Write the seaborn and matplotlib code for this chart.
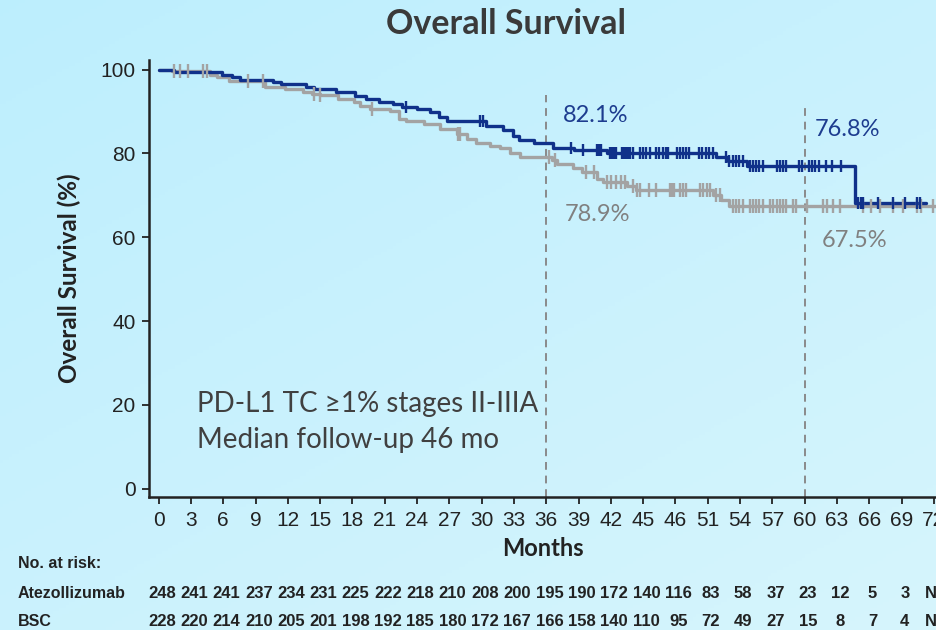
import numpy as np
import pandas as pd
import matplotlib
matplotlib.use("Agg")
import matplotlib.pyplot as plt
import matplotlib.transforms as mtransforms
from matplotlib import font_manager
import seaborn as sns

# ---------------- data ----------------
atezo_t = [0, 1.4, 5.85, 6.8, 7.55, 10.6, 11.4, 13.7, 14.4, 16.5, 18.2, 19.3, 20.5, 21.8, 22.6,
           24.0, 25.2, 26.0, 26.8, 30.45, 32.0, 32.9, 33.5, 34.9, 36.6, 38.6, 41.6, 51.8, 52.9,
           54.6, 64.7, 71.3]
atezo_s = [100, 99.4, 98.8, 98.2, 97.6, 97.0, 96.7, 95.9, 95.5, 94.6, 93.6, 93.0, 92.4, 91.8, 91.0,
           90.6, 89.8, 88.6, 87.8, 86.6, 85.6, 84.2, 83.3, 82.4, 81.2, 80.8, 80.2, 79.2, 78.2,
           76.9, 68.3, 68.3]
atezo_cens = [23.0, 29.8, 30.1, 38.3, 39.4, 40.7, 40.9, 41.1, 41.9, 42.1, 42.3, 42.5, 43.0, 43.2,
              43.4, 43.6, 43.8, 44.1, 44.7, 45.0, 45.3, 45.6, 46.2, 46.5, 46.8, 47.1, 47.3, 48.1,
              48.4, 48.7, 49.0, 49.3, 50.2, 50.5, 50.8, 51.1, 51.5, 52.7, 53.0, 53.3, 53.6, 53.9,
              54.3, 54.9, 55.2, 55.5, 55.8, 56.1, 57.4, 57.7, 58.0, 58.3, 59.5, 59.8, 60.4, 60.7,
              61.0, 61.3, 62.0, 62.5, 63.4, 65.0, 65.2, 65.4, 66.8, 68.2, 69.3, 70.4, 70.7]

bsc_t = [0, 1.2, 4.8, 5.4, 6.5, 9.9, 11.7, 13.4, 14.2, 15.0, 16.7, 18.1, 18.7, 19.6, 21.5, 22.3,
         23.0, 24.6, 26.1, 27.7, 28.6, 29.5, 30.8, 31.7, 32.6, 33.6, 36.5, 37.0, 38.5, 39.3, 40.7,
         41.3, 43.5, 44.3, 51.5, 52.2, 53.0, 72.2]
bsc_s = [100, 99.6, 98.8, 98.2, 97.4, 95.8, 95.3, 94.6, 94.2, 93.9, 93.1, 92.2, 91.4, 90.6, 90.1,
         88.2, 87.8, 87.0, 85.8, 84.6, 83.4, 82.6, 81.8, 81.2, 80.2, 79.2, 78.4, 77.6, 76.5, 75.5,
         74.0, 73.1, 72.2, 71.4, 70.2, 68.9, 67.5, 67.5]
bsc_cens = [1.4, 2.0, 2.75, 4.1, 4.5, 8.3, 9.7, 14.4, 15.0, 19.8, 27.8, 28.0, 36.3, 36.8, 39.7,
            40.4, 41.6, 42.0, 42.5, 42.9, 43.3, 44.1, 44.4, 44.7, 45.5, 46.2, 47.5, 47.7, 47.9,
            48.4, 48.7, 49.0, 50.3, 50.6, 50.9, 51.2, 51.8, 52.1, 53.3, 53.6, 53.9, 54.3, 54.9,
            55.2, 55.5, 55.8, 56.1, 56.8, 57.1, 57.4, 57.7, 58.0, 58.3, 58.9, 59.2, 60.2, 61.7,
            62.1, 62.6, 63.3, 65.4, 66.2, 67.0, 68.2, 69.1, 70.4, 70.8, 71.9]

landmarks = [36, 60]
atezo_landmark_labels = ["82.1%", "76.8%"]
bsc_landmark_labels = ["78.9%", "67.5%"]

xtick_values = list(range(0, 73, 3))
xtick_labels = ["0", "3", "6", "9", "12", "15", "18", "21", "24", "27", "30", "33", "36", "39",
                "42", "45", "46", "51", "54", "57", "60", "63", "66", "69", "72"]
ytick_values = [0, 20, 40, 60, 80, 100]

risk_atezo = ["248", "241", "241", "237", "234", "231", "225", "222", "218", "210", "208", "200",
              "195", "190", "172", "140", "116", "83", "58", "37", "23", "12", "5", "3", "NR"]
risk_bsc = ["228", "220", "214", "210", "205", "201", "198", "192", "185", "180", "172", "167",
            "166", "158", "140", "110", "95", "72", "49", "27", "15", "8", "7", "4", "NR"]

# ---------------- style ----------------
BLUE = "#10318a"
BLUE_TXT = "#1d3c8f"
GRAY = "#a3a3a3"
GRAY_TXT = "#808080"
DARK = "#3a3a3a"

names = {f.name for f in font_manager.fontManager.ttflist}
NARROW = "Liberation Sans Narrow" if "Liberation Sans Narrow" in names else "Liberation Sans"

sns.set_theme(style="white")
plt.rcParams["font.family"] = ["Lato", "DejaVu Sans"]

fig = plt.figure(figsize=(9.36, 6.3), dpi=100)

# gradient background
bg = fig.add_axes([0, 0, 1, 1], zorder=-10)
yy, xx = np.mgrid[0:1:200j, 0:1:300j]
tgrad = np.clip(0.55 * yy + 0.45 * xx, 0, 1)
c0 = np.array([0.74, 0.935, 0.995])
c1 = np.array([0.84, 0.96, 0.99])
img = c0[None, None, :] * (1 - tgrad[..., None]) + c1[None, None, :] * tgrad[..., None]
bg.imshow(img, aspect="auto", extent=[0, 1, 0, 1], origin="upper")
bg.axis("off")

ax = fig.add_axes([0.1595, 0.2106, 0.8405, 0.6941])
ax.set_facecolor("none")


def step_value(times, surv, at):
    idx = np.searchsorted(np.asarray(times), np.asarray(at), side="right") - 1
    return np.asarray(surv)[idx]


curves = pd.concat([
    pd.DataFrame({"month": bsc_t, "surv": bsc_s, "arm": "BSC"}),
    pd.DataFrame({"month": atezo_t, "surv": atezo_s, "arm": "Atezolizumab"}),
])
sns.lineplot(data=curves, x="month", y="surv", hue="arm",
             palette={"BSC": GRAY, "Atezolizumab": BLUE},
             estimator=None, sort=False, drawstyle="steps-post",
             linewidth=2.4, legend=False, ax=ax)

cens_bsc = pd.DataFrame({"month": bsc_cens, "surv": step_value(bsc_t, bsc_s, bsc_cens)})
cens_atezo = pd.DataFrame({"month": atezo_cens, "surv": step_value(atezo_t, atezo_s, atezo_cens)})
sns.scatterplot(data=cens_bsc, x="month", y="surv", marker="|", s=90, linewidth=1.7,
                color=GRAY, edgecolor=GRAY, legend=False, ax=ax, zorder=3)
sns.scatterplot(data=cens_atezo, x="month", y="surv", marker="|", s=80, linewidth=1.7,
                color=BLUE, edgecolor=BLUE, legend=False, ax=ax, zorder=4)

# landmark dashed lines
ax.vlines(landmarks, -2.06, [94.0, 91.7], colors="#8a8a8a", linestyles=(0, (4, 3)),
          linewidth=1.4, zorder=1)

for lm, lab, dy, dx in zip(landmarks, atezo_landmark_labels, [89.0, 85.8], [1.5, 0.9]):
    ax.text(lm + dx, dy, lab, color=BLUE_TXT, fontsize=17, va="center", ha="left")
for lm, lab, dy, dx in zip(landmarks, bsc_landmark_labels, [65.5, 59.3], [1.7, 1.6]):
    ax.text(lm + dx, dy, lab, color=GRAY_TXT, fontsize=17, va="center", ha="left")

ax.text(3.56, 20.3, "PD-L1 TC \u22651% stages II-IIIA", fontsize=20, color="#404040",
        va="center", ha="left")
ax.text(3.56, 11.7, "Median follow-up 46 mo", fontsize=20, color="#404040",
        va="center", ha="left")

ax.set_xlim(-0.87, 72.2)
ax.set_ylim(-2.06, 102.3)
ax.set_xticks(xtick_values)
ax.set_xticklabels(xtick_labels, fontfamily=NARROW, fontsize=15, color="#222222")
ax.set_yticks(ytick_values)
ax.set_yticklabels([str(v) for v in ytick_values], fontfamily=NARROW, fontsize=15, color="#222222")
ax.tick_params(axis="both", direction="out", length=5, width=1.3, color="#222222",
               bottom=True, left=True, pad=5)
for side in ["top", "right"]:
    ax.spines[side].set_visible(False)
for side in ["left", "bottom"]:
    ax.spines[side].set_color("#222222")
    ax.spines[side].set_linewidth(1.8)

ax.set_xlabel("Months", fontsize=17, fontweight="bold", color="#222222", labelpad=5)
ax.set_ylabel("Overall Survival (%)", fontsize=17.5, fontweight="bold", color="#222222",
              labelpad=14)

fig.text(0.541, 0.962, "Overall Survival", fontsize=24.5, fontweight="bold", color=DARK,
         ha="center", va="center")

# at-risk table
trans = mtransforms.blended_transform_factory(ax.transData, fig.transFigure)
fig.text(18 / 936, 1 - 563 / 630, "No. at risk:", fontfamily=NARROW, fontweight="bold",
         fontsize=11.5, color="#222222", va="center", ha="left")
fig.text(18 / 936, 1 - 593 / 630, "Atezollizumab", fontfamily=NARROW, fontweight="bold",
         fontsize=11.5, color="#222222", va="center", ha="left")
fig.text(18 / 936, 1 - 621 / 630, "BSC", fontfamily=NARROW, fontweight="bold",
         fontsize=11.5, color="#222222", va="center", ha="left")
for xv, a, b in zip(xtick_values, risk_atezo, risk_bsc):
    ax.text(xv + 0.3, 1 - 593 / 630, a, transform=trans, fontfamily=NARROW, fontweight="bold",
            fontsize=12, color="#222222", ha="center", va="center", clip_on=False)
    ax.text(xv + 0.3, 1 - 621 / 630, b, transform=trans, fontfamily=NARROW, fontweight="bold",
            fontsize=12, color="#222222", ha="center", va="center", clip_on=False)

fig.savefig("out.png", dpi=100)
